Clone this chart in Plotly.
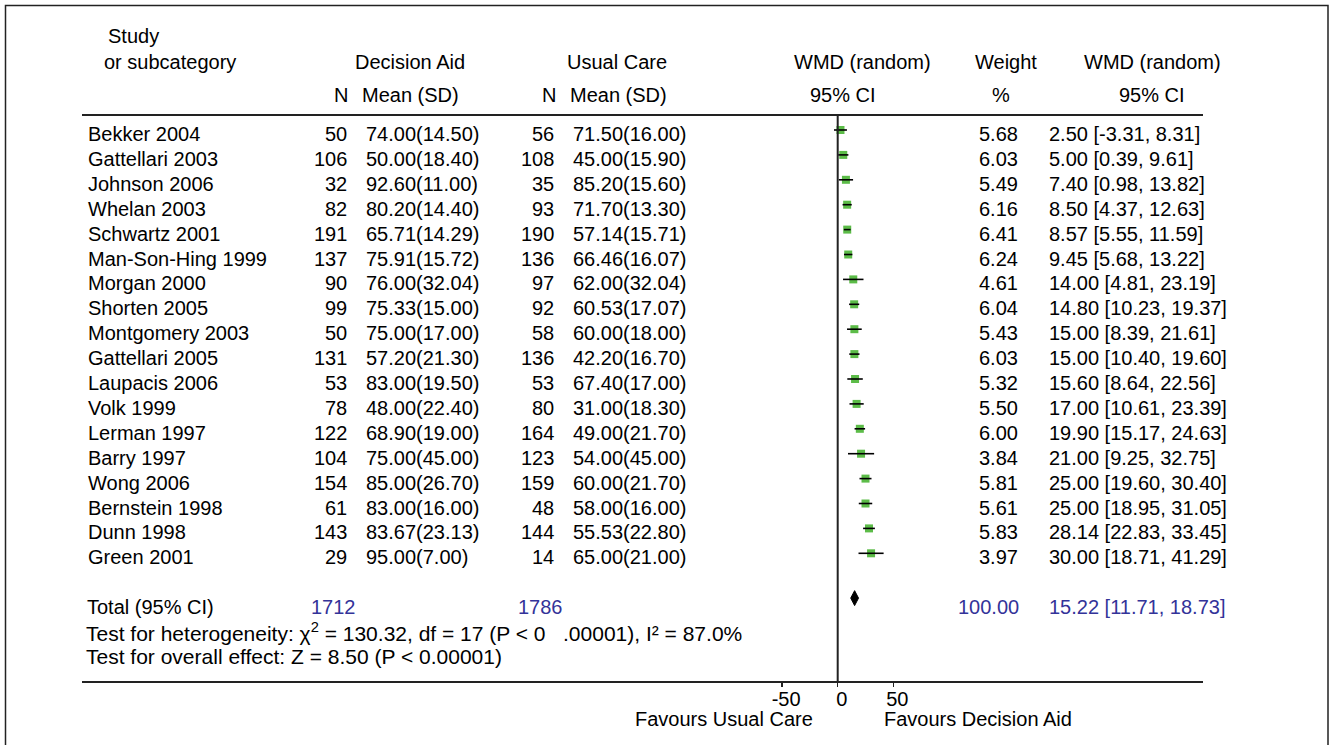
import plotly.graph_objects as go

# ---------------- data ----------------
studies = ["Bekker 2004", "Gattellari 2003", "Johnson 2006", "Whelan 2003", "Schwartz 2001",
           "Man-Son-Hing 1999", "Morgan 2000", "Shorten 2005", "Montgomery 2003", "Gattellari 2005",
           "Laupacis 2006", "Volk 1999", "Lerman 1997", "Barry 1997", "Wong 2006",
           "Bernstein 1998", "Dunn 1998", "Green 2001"]
da_n = [50, 106, 32, 82, 191, 137, 90, 99, 50, 131, 53, 78, 122, 104, 154, 61, 143, 29]
da_mean = [74.00, 50.00, 92.60, 80.20, 65.71, 75.91, 76.00, 75.33, 75.00, 57.20, 83.00, 48.00,
           68.90, 75.00, 85.00, 83.00, 83.67, 95.00]
da_sd = [14.50, 18.40, 11.00, 14.40, 14.29, 15.72, 32.04, 15.00, 17.00, 21.30, 19.50, 22.40,
         19.00, 45.00, 26.70, 16.00, 23.13, 7.00]
uc_n = [56, 108, 35, 93, 190, 136, 97, 92, 58, 136, 53, 80, 164, 123, 159, 48, 144, 14]
uc_mean = [71.50, 45.00, 85.20, 71.70, 57.14, 66.46, 62.00, 60.53, 60.00, 42.20, 67.40, 31.00,
           49.00, 54.00, 60.00, 58.00, 55.53, 65.00]
uc_sd = [16.00, 15.90, 15.60, 13.30, 15.71, 16.07, 32.04, 17.07, 18.00, 16.70, 17.00, 18.30,
         21.70, 45.00, 21.70, 16.00, 22.80, 21.00]
weights = [5.68, 6.03, 5.49, 6.16, 6.41, 6.24, 4.61, 6.04, 5.43, 6.03, 5.32, 5.50, 6.00, 3.84,
           5.81, 5.61, 5.83, 3.97]
wmd = [2.50, 5.00, 7.40, 8.50, 8.57, 9.45, 14.00, 14.80, 15.00, 15.00, 15.60, 17.00, 19.90,
       21.00, 25.00, 25.00, 28.14, 30.00]
ci_lo = [-3.31, 0.39, 0.98, 4.37, 5.55, 5.68, 4.81, 10.23, 8.39, 10.40, 8.64, 10.61, 15.17,
         9.25, 19.60, 18.95, 22.83, 18.71]
ci_hi = [8.31, 9.61, 13.82, 12.63, 11.59, 13.22, 23.19, 19.37, 21.61, 19.60, 22.56, 23.39,
         24.63, 32.75, 30.40, 31.05, 33.45, 41.29]
total_da_n = 1712
total_uc_n = 1786
total_weight = 100.00
total_wmd = 15.22
total_lo = 11.71
total_hi = 18.73
x_ticks = [-50, 0, 50]

# ---------------- layout constants ----------------
W, H = 1334, 745
FONT = "Liberation Sans, Arial, Helvetica, sans-serif"
FS = 20
FS_TEST = 21
BLUE = "#333399"
GREEN = "#5cbc48"
ROW0_PX = 130.0      # pixel of first row
ROW_PX = 24.9        # pixel spacing per row
ZERO_PX = 837.7      # pixel of x = 0
PX_PER_UNIT = 1.112
AX_LEFT, AX_RIGHT = 82, 1203
AX_Y = 682
TOP_LINE_Y = 115
TEXT_SHIFT = -4

def px(x):
    return x / W

def py(y):
    return 1 - y / H

x_range = [(AX_LEFT - ZERO_PX) / PX_PER_UNIT, (AX_RIGHT - ZERO_PX) / PX_PER_UNIT]
y_range = [(H - ROW0_PX) / ROW_PX, (0 - ROW0_PX) / ROW_PX]

n = len(studies)
rows = list(range(n))
total_row = n + 1
het_row = n + 2
eff_row = n + 3

fig = go.Figure()

# squares
fig.add_trace(go.Scatter(
    x=wmd, y=rows, mode="markers",
    marker=dict(symbol="square", size=8, color=GREEN, line=dict(width=0)),
    hoverinfo="skip", showlegend=False))

# CI lines (drawn over squares)
ci_x, ci_y = [], []
for lo, hi, r in zip(ci_lo, ci_hi, rows):
    ci_x += [lo, hi, None]
    ci_y += [r, r, None]
fig.add_trace(go.Scatter(
    x=ci_x, y=ci_y, mode="lines", line=dict(color="black", width=1.6),
    hoverinfo="skip", showlegend=False))

# diamond for total
dh = 0.3
dy = total_row - 0.2
fig.add_trace(go.Scatter(
    x=[total_lo, total_wmd, total_hi, total_wmd, total_lo],
    y=[dy, dy - dh, dy, dy + dh, dy],
    mode="lines", fill="toself", fillcolor="black", line=dict(color="black", width=1),
    hoverinfo="skip", showlegend=False))

ann = []

def add(text, x, y, xanchor="left", yref="paper", color="black", yshift=0, size=FS):
    ann.append(dict(text=text, x=px(x), y=y, xref="paper", yref=yref,
                    xanchor=xanchor, yanchor="middle", showarrow=False,
                    font=dict(family=FONT, size=size, color=color), yshift=yshift))

# headers
add("Study", 106, py(36))
add("or subcategory", 102, py(62))
add("Decision Aid", 410, py(62), "center")
add("Usual Care", 617, py(62), "center")
add("WMD (random)", 862, py(62), "center")
add("Weight", 1006, py(62), "center")
add("WMD (random)", 1152, py(62), "center")
add("N", 350, py(95), "right")
add("Mean (SD)", 410, py(95), "center")
add("N", 558, py(95), "right")
add("Mean (SD)", 618, py(95), "center")
add("95% CI", 843, py(95), "center")
add("%", 1001, py(95), "center")
add("95% CI", 1152, py(95), "center")

# rows
for i in rows:
    add(studies[i], 86, i, yref="y", yshift=TEXT_SHIFT)
    add(str(da_n[i]), 349, i, "right", yref="y", yshift=TEXT_SHIFT)
    add(f"{da_mean[i]:.2f}({da_sd[i]:.2f})", 364, i, yref="y", yshift=TEXT_SHIFT)
    add(str(uc_n[i]), 556, i, "right", yref="y", yshift=TEXT_SHIFT)
    add(f"{uc_mean[i]:.2f}({uc_sd[i]:.2f})", 571, i, yref="y", yshift=TEXT_SHIFT)
    add(f"{weights[i]:.2f}", 1020, i, "right", yref="y", yshift=TEXT_SHIFT)
    add(f"{wmd[i]:.2f} [{ci_lo[i]:.2f}, {ci_hi[i]:.2f}]", 1047, i, yref="y", yshift=TEXT_SHIFT)

# totals
add("Total (95% CI)", 85, total_row, yref="y", yshift=TEXT_SHIFT)
add(str(total_da_n), 358, total_row, "right", yref="y", color=BLUE, yshift=TEXT_SHIFT)
add(str(total_uc_n), 565, total_row, "right", yref="y", color=BLUE, yshift=TEXT_SHIFT)
add(f"{total_weight:.2f}", 1021, total_row, "right", yref="y", color=BLUE, yshift=TEXT_SHIFT)
add(f"{total_wmd:.2f} [{total_lo:.2f}, {total_hi:.2f}]", 1047, total_row, yref="y", color=BLUE,
    yshift=TEXT_SHIFT)
add("Test for heterogeneity: \u03c7<sup>2</sup> = 130.32, df = 17 (P < 0   .00001), I\u00b2 = 87.0%",
    84, het_row, yref="y", yshift=TEXT_SHIFT, size=FS_TEST)
add("Test for overall effect: Z = 8.50 (P < 0.00001)", 84, eff_row, yref="y", yshift=TEXT_SHIFT,
    size=FS_TEST)

# favours labels
add("Favours Usual Care", 815, py(719), "right")
add("Favours Decision Aid", 882, py(719), "left")

shapes = [
    # outer frame
    dict(type="rect", xref="paper", yref="paper", x0=px(5.5), x1=px(1328), y0=py(760), y1=py(5.5),
         line=dict(color="#222222", width=1.5)),
    # header separator
    dict(type="line", xref="paper", yref="paper", x0=px(AX_LEFT), x1=px(AX_RIGHT),
         y0=py(TOP_LINE_Y), y1=py(TOP_LINE_Y), line=dict(color="#222222", width=2)),
    # zero line
    dict(type="line", xref="x", yref="paper", x0=0, x1=0, y0=py(AX_Y), y1=py(TOP_LINE_Y),
         line=dict(color="#222222", width=2)),
]

fig.update_layout(
    width=W, height=H,
    margin=dict(l=0, r=0, t=0, b=0),
    paper_bgcolor="white", plot_bgcolor="rgba(0,0,0,0)",
    showlegend=False,
    annotations=ann, shapes=shapes,
    font=dict(family=FONT, size=FS, color="black"),
    xaxis=dict(domain=[px(AX_LEFT), px(AX_RIGHT)], range=x_range, anchor="free",
               position=py(AX_Y), showgrid=False, zeroline=False,
               showline=True, linecolor="#222222", linewidth=2,
               ticks="outside", ticklen=4, tickwidth=1.5, tickcolor="#222222",
               tickvals=x_ticks, ticktext=[str(t) for t in x_ticks],
               tickfont=dict(family=FONT, size=FS, color="black"),
               ticklabelshift=4, ticklabelstandoff=-5),
    yaxis=dict(domain=[0, 1], range=y_range, visible=False, showgrid=False, zeroline=False),
)

fig.write_html("out.html", config={"displayModeBar": False, "staticPlot": True},
               post_script="document.body.style.margin='0';"
                           "document.body.style.overflow='hidden';")
